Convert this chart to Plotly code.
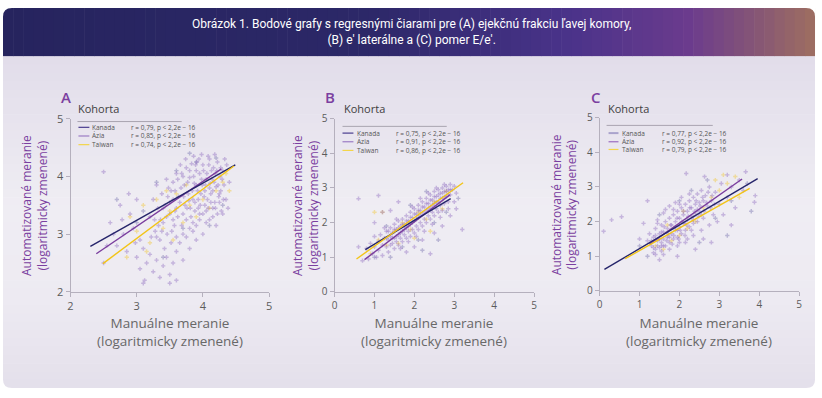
import plotly.graph_objects as go

W, H = 822, 398


def X(p):
    return p / W


def Y(p):
    return 1 - p / H


# ---------------- DATA ----------------
cohorts = ["Kanada", "Ázia", "Taiwan"]
panel_letters = ["A", "B", "C"]
A_r = ["r = 0,79, p < 2,2e − 16", "r = 0,85, p < 2,2e − 16", "r = 0,74, p < 2,2e − 16"]
B_r = ["r = 0,75, p < 2,2e − 16", "r = 0,91, p < 2,2e − 16", "r = 0,86, p < 2,2e − 16"]
C_r = ["r = 0,77, p < 2,2e − 16", "r = 0,92, p < 2,2e − 16", "r = 0,79, p < 2,2e − 16"]

A_ticks = [2, 3, 4, 5]
BC_ticks = [0, 1, 2, 3, 4, 5]

# regression line end points (x0, x1), (y0, y1)
A_fit_kanada = ([2.30, 4.49], [2.79, 4.20])
A_fit_azia = ([2.39, 4.28], [2.66, 4.13])
A_fit_taiwan = ([2.49, 4.47], [2.49, 4.18])
B_fit_kanada = ([0.77, 2.91], [1.22, 2.69])
B_fit_azia = ([0.75, 2.89], [0.93, 2.80])
B_fit_taiwan = ([0.55, 3.22], [0.95, 3.15])
C_fit_kanada = ([0.12, 3.96], [0.62, 3.24])
C_fit_azia = ([1.25, 3.57], [1.35, 3.23])
C_fit_taiwan = ([0.64, 3.76], [0.93, 2.96])

A_pts_azia = [
    (3.62, 3.95), (3.68, 4.05), (3.72, 3.85), (3.75, 4.15), (3.78, 3.7), (3.8, 3.98), (3.83, 4.22),
    (3.85, 3.6), (3.87, 3.88), (3.9, 4.1), (3.92, 3.75), (3.94, 4.3), (3.96, 3.5), (3.98, 3.95),
    (4.0, 4.2), (4.02, 3.65), (4.04, 3.85), (4.06, 4.05), (4.08, 3.45), (4.1, 4.3), (4.12, 3.7),
    (4.14, 3.95), (4.16, 4.15), (4.18, 3.55), (4.2, 3.82), (4.22, 4.25), (4.24, 3.65), (4.26, 4.0),
    (4.28, 3.4), (4.3, 4.1), (3.65, 3.55), (3.7, 3.35), (3.76, 3.45), (3.82, 3.3), (3.88, 3.4),
    (3.95, 3.25), (4.0, 3.35), (4.05, 3.2), (4.15, 3.3), (4.25, 3.55), (3.58, 3.75), (3.6, 3.45),
    (3.66, 4.2), (3.74, 4.3), (3.86, 4.35), (3.98, 4.38), (4.08, 4.35), (4.18, 4.38), (4.32, 3.85),
    (4.35, 3.6), (4.36, 4.2), (4.4, 3.9), (3.93, 3.6), (4.03, 3.75), (4.11, 3.88), (3.79, 3.58),
    (3.71, 3.65), (4.19, 4.05), (4.27, 3.75), (3.89, 4.2),
    (3.55, 3.9), (3.6, 4.05), (3.63, 3.65), (3.67, 3.8), (3.7, 4.0), (3.73, 3.5), (3.77, 3.9),
    (3.8, 4.1), (3.81, 3.45), (3.84, 3.75), (3.86, 4.0), (3.88, 3.55), (3.9, 3.85), (3.91, 4.25),
    (3.93, 3.45), (3.95, 4.05), (3.97, 3.7), (3.99, 3.85), (4.01, 4.1), (4.03, 3.5), (4.05, 3.95),
    (4.07, 3.6), (4.09, 4.2), (4.1, 3.8), (4.12, 3.55), (4.13, 4.1), (4.15, 3.75), (4.17, 3.9),
    (4.19, 3.45), (4.21, 4.1), (4.23, 3.85), (4.25, 3.7), (4.27, 4.15), (4.29, 3.95), (4.31, 3.6),
    (4.33, 4.3), (4.05, 3.4), (3.95, 3.35), (4.15, 3.45), (4.22, 3.35), (3.85, 3.2), (3.75, 3.25),
    (3.68, 3.15), (3.62, 3.3), (3.55, 3.25), (3.5, 3.55), (3.52, 3.75), (3.45, 3.3), (3.4, 3.45),
    (3.38, 3.05), (3.3, 2.95), (3.27, 3.25), (3.6, 2.95), (3.7, 3.0), (3.8, 3.1), (3.9, 3.15),
    (4.1, 3.25), (4.2, 3.15), (4.3, 3.35), (4.38, 3.45),
    (3.2, 3.3), (3.25, 3.6), (3.28, 3.05), (3.32, 3.45), (3.35, 2.9), (3.38, 3.7), (3.4, 3.2),
    (3.43, 3.5), (3.46, 3.0), (3.48, 3.8), (3.5, 3.35), (3.52, 2.85), (3.55, 3.6), (3.57, 3.15),
    (3.3, 3.85), (3.45, 3.95), (3.22, 2.95), (3.36, 3.25), (3.53, 3.05), (3.42, 2.75), (3.33, 3.15),
    (3.47, 3.65), (3.58, 3.4),
    (3.0, 2.6), (3.05, 2.4), (3.1, 2.75), (3.12, 2.2), (3.15, 2.5), (3.2, 2.65), (3.25, 2.35),
    (3.3, 2.55), (3.35, 2.25), (3.4, 2.45), (3.45, 2.6), (3.5, 2.3), (3.55, 2.5), (3.6, 2.7),
    (3.65, 2.85), (3.7, 2.55), (3.75, 2.95), (3.8, 2.75), (3.85, 3.05), (3.1, 2.15), (3.6, 2.2),
    (3.5, 2.15), (3.9, 2.9), (4.0, 3.0),
    (2.5, 2.5), (2.6, 3.2), (2.7, 2.8), (2.75, 3.5), (2.8, 3.0), (2.85, 2.7), (2.9, 3.35),
    (2.95, 3.1), (3.0, 3.6), (3.05, 2.9), (2.65, 3.0), (2.88, 3.7), (2.98, 2.85), (2.78, 3.25),
    (2.55, 2.8), (2.5, 4.08),
]
A_pts_taiwan = [
    (2.9, 3.3), (3.0, 3.05), (3.1, 3.5), (3.2, 2.85), (3.3, 3.6), (3.4, 3.1), (3.5, 3.4), (3.55, 2.9),
    (3.6, 3.7), (3.7, 3.2), (3.8, 3.5), (3.9, 3.3), (4.0, 3.6), (4.1, 3.45), (4.2, 3.75), (4.3, 3.9),
    (4.35, 4.05), (3.45, 3.75), (3.15, 2.7), (2.85, 2.6), (4.4, 3.75), (3.75, 3.85),
]
A_pts_kanada = [
    (3.3, 3.9), (3.6, 4.1), (3.9, 4.25), (4.2, 4.32), (3.1, 3.4), (3.7, 3.1), (4.1, 3.15), (2.7, 3.6),
    (3.4, 2.6), (4.3, 3.5), (3.0, 3.2), (3.8, 4.4),
]

B_pts_azia = [
    (0.8, 1.25), (0.85, 0.95), (0.9, 1.4), (0.95, 1.1), (1.0, 1.3), (1.0, 1.6), (1.05, 1.0), (1.1, 1.45),
    (1.1, 1.2), (1.15, 1.65), (1.2, 1.35), (1.2, 1.05), (1.25, 1.55), (1.3, 1.75), (1.3, 1.3),
    (1.35, 1.5), (1.35, 1.15), (1.4, 1.85), (1.4, 1.6), (1.45, 1.4), (1.45, 1.7), (1.5, 1.95),
    (1.5, 1.55), (1.5, 1.25), (1.55, 1.8), (1.55, 1.45), (1.6, 2.05), (1.6, 1.65), (1.6, 1.35),
    (1.65, 1.9), (1.65, 1.55), (1.7, 2.1), (1.7, 1.75), (1.7, 1.45), (1.75, 1.95), (1.75, 1.65),
    (1.8, 2.2), (1.8, 1.85), (1.8, 1.55), (1.85, 2.05), (1.85, 1.75), (1.9, 2.3), (1.9, 1.95),
    (1.9, 1.6), (1.95, 2.15), (1.95, 1.8), (2.0, 2.4), (2.0, 2.05), (2.0, 1.7), (2.05, 2.25),
    (2.05, 1.9), (2.1, 2.5), (2.1, 2.15), (2.1, 1.8), (2.15, 2.35), (2.15, 2.0), (2.2, 2.6),
    (2.2, 2.25), (2.2, 1.9), (2.25, 2.45), (2.25, 2.1), (2.3, 2.7), (2.3, 2.35), (2.3, 2.0),
    (2.35, 2.55), (2.35, 2.2), (2.4, 2.8), (2.4, 2.45), (2.4, 2.1), (2.45, 2.65), (2.45, 2.3),
    (2.5, 2.9), (2.5, 2.55), (2.5, 2.2), (2.55, 2.75), (2.55, 2.4), (2.6, 2.95), (2.6, 2.6),
    (2.6, 2.3), (2.65, 2.85), (2.65, 2.5), (2.7, 3.0), (2.7, 2.7), (2.7, 2.35), (2.75, 2.9),
    (2.75, 2.55), (2.8, 3.05), (2.8, 2.75), (2.85, 2.95), (2.85, 2.6), (2.9, 3.1), (2.9, 2.8),
    (2.95, 2.95), (3.0, 3.05), (3.05, 2.85),
    (1.3, 1.55), (1.35, 1.75), (1.4, 1.35), (1.45, 1.55), (1.5, 1.8), (1.55, 1.6), (1.6, 1.85),
    (1.65, 1.7), (1.7, 1.95), (1.75, 1.8), (1.8, 2.05), (1.85, 1.9), (1.9, 2.15), (1.95, 2.0),
    (2.0, 2.25), (2.05, 2.1), (2.1, 2.35), (2.15, 2.2), (2.2, 2.45), (2.25, 2.3), (2.3, 2.55),
    (2.35, 2.4), (2.4, 2.65), (2.45, 2.5), (2.5, 2.75), (2.55, 2.6), (2.6, 2.8), (2.65, 2.7),
    (2.7, 2.85), (2.75, 2.75), (2.8, 2.9), (2.85, 2.8), (2.9, 2.95), (2.35, 2.85), (2.55, 3.0),
    (2.75, 3.1), (2.15, 2.7), (1.95, 2.45), (1.55, 2.1), (1.25, 1.85), (1.65, 1.25), (1.85, 1.45),
    (2.05, 1.6), (2.25, 1.75), (2.45, 1.95), (2.65, 2.15), (2.85, 2.4), (3.0, 2.6),
    (0.6, 1.3), (0.7, 0.9), (1.0, 2.0), (1.2, 2.3), (1.6, 2.6), (2.2, 1.5), (2.5, 1.7), (2.7, 1.9),
    (2.9, 2.2), (3.2, 1.8), (1.8, 1.15), (2.4, 1.1), (1.4, 2.35), (3.05, 2.4), (2.0, 1.3),
    (0.6, 2.69), (1.1, 2.78),
]
B_pts_taiwan = [
    (0.9, 1.1), (1.1, 1.5), (1.3, 1.35), (1.5, 1.75), (1.7, 2.0), (1.9, 1.8), (2.1, 2.3), (2.3, 2.1),
    (2.5, 2.6), (2.7, 2.4), (1.2, 2.3), (1.0, 2.3), (2.0, 1.55), (2.4, 1.75), (1.6, 1.4), (2.8, 2.9),
]
B_pts_kanada = [
    (1.0, 1.0), (1.3, 1.9), (1.7, 1.3), (2.1, 1.5), (2.5, 2.0), (2.8, 2.3), (2.3, 2.9), (1.9, 2.5),
    (3.1, 2.7), (2.6, 1.5), (1.4, 1.0), (2.2, 1.2),
]

C_pts_azia = [
    (1.3, 1.3), (1.35, 1.55), (1.4, 1.2), (1.4, 1.8), (1.45, 1.45), (1.5, 1.65), (1.5, 1.25), (1.55, 1.9),
    (1.55, 1.4), (1.6, 1.7), (1.6, 1.5), (1.65, 2.0), (1.65, 1.3), (1.7, 1.8), (1.7, 1.55), (1.75, 2.1),
    (1.75, 1.4), (1.8, 1.9), (1.8, 1.65), (1.85, 2.2), (1.85, 1.5), (1.9, 2.0), (1.9, 1.75), (1.95, 2.3),
    (1.95, 1.55), (2.0, 2.1), (2.0, 1.85), (2.0, 1.4), (2.05, 2.4), (2.05, 1.65), (2.1, 2.2), (2.1, 1.95),
    (2.15, 2.5), (2.15, 1.75), (2.2, 2.3), (2.2, 2.05), (2.2, 1.5), (2.25, 2.6), (2.25, 1.85), (2.3, 2.4),
    (2.3, 2.15), (2.35, 2.7), (2.35, 1.95), (2.4, 2.5), (2.4, 2.25), (2.45, 2.8), (2.45, 2.0), (2.5, 2.55),
    (2.5, 2.3), (2.55, 2.9), (2.6, 2.6), (2.6, 2.1), (2.65, 2.75), (2.7, 2.45), (2.75, 3.0), (2.8, 2.6),
    (2.85, 2.2), (2.9, 2.85), (3.0, 2.5), (3.05, 3.1), (1.45, 2.05), (1.6, 2.25), (1.75, 2.45), (1.9, 2.55),
    (2.05, 2.7), (1.35, 1.1), (1.55, 1.15), (1.75, 1.2), (1.95, 1.3), (2.15, 1.4), (2.35, 1.6), (2.55, 1.75),
    (2.75, 1.9), (2.95, 2.0), (1.25, 1.65), (1.2, 1.45), (1.1, 1.95), (2.4, 1.2), (2.6, 1.5), (3.1, 2.2),
    (3.2, 2.7), (3.3, 3.0), (3.4, 2.4), (3.5, 3.2), (3.6, 2.9), (3.2, 3.35),
    (1.3, 1.45), (1.35, 1.25), (1.4, 1.6), (1.45, 1.3), (1.5, 1.5), (1.55, 1.7), (1.6, 1.3),
    (1.62, 1.85), (1.68, 1.45), (1.72, 1.65), (1.78, 1.9), (1.82, 1.35), (1.86, 1.6), (1.9, 1.85),
    (1.94, 2.1), (1.98, 1.5), (2.02, 1.75), (2.06, 2.0), (2.1, 2.3), (2.14, 1.6), (2.18, 1.9),
    (2.22, 2.15), (2.26, 2.4), (2.3, 1.75), (2.34, 2.05), (2.38, 2.3), (2.42, 2.6), (2.48, 2.15),
    (2.52, 2.45), (2.58, 2.7), (2.62, 2.3), (2.68, 2.55), (2.72, 2.85), (2.78, 2.4), (2.82, 2.75),
    (2.88, 2.5), (1.4, 1.05), (1.6, 1.05), (1.45, 1.95), (1.65, 2.35), (1.85, 2.35), (2.0, 2.5),
    (2.25, 2.8), (2.45, 2.35), (1.55, 1.3), (1.75, 1.55), (1.95, 1.75), (2.15, 1.95), (2.35, 2.15),
    (2.55, 2.2),
    (0.1, 1.72), (0.3, 2.05), (0.55, 2.14), (1.0, 1.5), (2.17, 3.39), (2.63, 3.3), (3.66, 3.44),
    (3.9, 2.75), (3.88, 2.56), (1.5, 0.9), (1.95, 1.0), (1.2, 2.6), (2.8, 1.4), (3.3, 1.9),
]
C_pts_taiwan = [
    (1.4, 1.3), (1.6, 1.2), (1.8, 1.45), (2.0, 1.6), (2.2, 1.8), (2.4, 2.0), (2.6, 2.4), (2.8, 2.7),
    (3.0, 2.9), (3.2, 3.1), (3.4, 3.3), (2.1, 2.3), (1.7, 1.9), (3.1, 3.35), (2.9, 3.2), (3.5, 2.7),
]
C_pts_kanada = [
    (1.0, 1.3), (1.5, 2.2), (2.3, 2.9), (2.5, 1.4), (2.9, 2.1), (3.3, 2.6), (3.7, 3.1), (3.8, 2.3),
    (1.2, 1.0), (2.0, 2.6), (2.7, 3.2), (3.2, 1.6),
]

# ---------------- STYLE ----------------
PURPLE = "#7b3fa0"
line_colors = {"Kanada": "#26256b", "Ázia": "#7a3d9e", "Taiwan": "#f2c418"}
pt_colors = {"Kanada": "rgba(120,115,175,0.45)", "Ázia": "rgba(140,105,190,0.42)",
             "Taiwan": "rgba(240,205,90,0.55)"}
legend_sample = [
    {"Kanada": "#4a3d8f", "Ázia": "#9b7cc4", "Taiwan": "#f3d54a"},
    {"Kanada": "#4a3d8f", "Ázia": "#9b7cc4", "Taiwan": "#f3d54a"},
    {"Kanada": "#aaa3cc", "Ázia": "#9b6cc0", "Taiwan": "#f3d54a"},
]

panels = [
    dict(xd=(68, 268), yd=(115, 295), xr=[2, 5], yr=[2, 5], ticks=A_ticks, tfs=11,
         pts={"Kanada": A_pts_kanada, "Ázia": A_pts_azia, "Taiwan": A_pts_taiwan},
         fit={"Kanada": A_fit_kanada, "Ázia": A_fit_azia, "Taiwan": A_fit_taiwan},
         r=A_r, letter=(63, 93), koh=75, leg_line=(75, 180, 118), leg_y=[124, 133, 142],
         leg_sx=(76, 87), leg_tx=88, leg_rx=127, ytitle_x=32, xtitle_x=168),
    dict(xd=(334, 535), yd=(115, 295), xr=[0, 5], yr=[0, 5], ticks=BC_ticks, tfs=10,
         pts={"Kanada": B_pts_kanada, "Ázia": B_pts_azia, "Taiwan": B_pts_taiwan},
         fit={"Kanada": B_fit_kanada, "Ázia": B_fit_azia, "Taiwan": B_fit_taiwan},
         r=B_r, letter=(329, 93), koh=342, leg_line=(342, 447, 123), leg_y=[130, 139, 148],
         leg_sx=(342, 353), leg_tx=355, leg_rx=394, ytitle_x=305, xtitle_x=434),
    dict(xd=(601, 802), yd=(114, 294), xr=[0, 5], yr=[0, 5], ticks=BC_ticks, tfs=10,
         pts={"Kanada": C_pts_kanada, "Ázia": C_pts_azia, "Taiwan": C_pts_taiwan},
         fit={"Kanada": C_fit_kanada, "Ázia": C_fit_azia, "Taiwan": C_fit_taiwan},
         r=C_r, letter=(597, 93), koh=608, leg_line=(608, 715, 122), leg_y=[130, 139, 147],
         leg_sx=(610, 620), leg_tx=622, leg_rx=662, ytitle_x=565, xtitle_x=701),
]

fig = go.Figure()
shapes = []
annotations = []


def lerp_color(stops, t):
    for i in range(len(stops) - 1):
        t0, c0 = stops[i]
        t1, c1 = stops[i + 1]
        if t0 <= t <= t1:
            f = (t - t0) / (t1 - t0) if t1 > t0 else 0
            a = [int(c0[k:k + 2], 16) for k in (1, 3, 5)]
            b = [int(c1[k:k + 2], 16) for k in (1, 3, 5)]
            return "rgb(%d,%d,%d)" % tuple(round(a[j] + (b[j] - a[j]) * f) for j in range(3))
    return stops[-1][1]


# card body vertical gradient
body_stops = [(0, "#e2ddea"), (0.45, "#efedf3"), (0.75, "#edeaf2"), (1, "#e4e0eb")]
N = 40
top, bot = 50, 395
for i in range(N):
    y0 = top + (bot - top) * i / N
    y1 = top + (bot - top) * (i + 1) / N + 0.6
    shapes.append(dict(type="rect", xref="paper", yref="paper", x0=X(0), x1=X(818),
                       y0=Y(y1), y1=Y(y0), line=dict(width=0),
                       fillcolor=lerp_color(body_stops, i / (N - 1)), layer="below"))
# title band horizontal gradient
band_stops = [(0, "#26245e"), (0.45, "#2c2868"), (0.7, "#4a338a"), (0.85, "#6b3b8d"), (1, "#9c6c62")]
M = 80
for i in range(M):
    x0 = 818 * i / M
    x1 = 818 * (i + 1) / M + 0.6
    shapes.append(dict(type="rect", xref="paper", yref="paper", x0=X(x0), x1=X(x1),
                       y0=Y(50), y1=Y(0), line=dict(width=0),
                       fillcolor=lerp_color(band_stops, i / (M - 1)), layer="below"))
# rounded corner masks
r = 9
corners = [
    (0, 0, r, 0, 0, r),
    (818, 0, 818 - r, 0, 818, r),
    (818, 395, 818 - r, 395, 818, 395 - r),
    (0, 395, r, 395, 0, 395 - r),
]
for cx, cy, ax_, ay, bx, by in corners:
    path = "M %f,%f L %f,%f Q %f,%f %f,%f Z" % (X(cx), Y(cy), X(ax_), Y(ay), X(cx), Y(cy), X(bx), Y(by))
    shapes.append(dict(type="path", xref="paper", yref="paper", path=path,
                       fillcolor="white", line=dict(width=0), layer="below"))
shapes.append(dict(type="rect", xref="paper", yref="paper", x0=X(818), x1=1, y0=0, y1=1,
                   fillcolor="white", line=dict(width=0), layer="below"))
shapes.append(dict(type="rect", xref="paper", yref="paper", x0=0, x1=1, y0=0, y1=Y(395),
                   fillcolor="white", line=dict(width=0), layer="below"))

annotations.append(dict(
    text="Obrázok 1. Bodové grafy s regresnými čiarami pre (A) ejekčnú frakciu ľavej komory,<br>(B) e′ laterálne a (C) pomer E/e′.",
    xref="paper", yref="paper", x=X(411), y=Y(25), xanchor="center", yanchor="middle",
    showarrow=False, font=dict(family="Roboto", size=12, color="white")))

layout_axes = {}
for k, p in enumerate(panels):
    suffix = "" if k == 0 else str(k + 1)
    xa, ya = "x" + suffix, "y" + suffix
    layout_axes["xaxis" + suffix] = dict(
        domain=[X(p["xd"][0]), X(p["xd"][1])], range=p["xr"], anchor=ya,
        tickvals=p["ticks"], showgrid=False, zeroline=False, showline=True,
        linecolor="#b5b0bd", linewidth=1, ticks="outside", ticklen=4, tickcolor="#b5b0bd",
        tickfont=dict(family="Open Sans", size=p["tfs"], color="#5c5c5c"), fixedrange=True)
    layout_axes["yaxis" + suffix] = dict(
        domain=[Y(p["yd"][1]), Y(p["yd"][0])], range=p["yr"], anchor=xa,
        tickvals=p["ticks"], showgrid=False, zeroline=False, showline=True,
        linecolor="#b5b0bd", linewidth=1, ticks="outside", ticklen=4, tickcolor="#b5b0bd",
        tickfont=dict(family="Open Sans", size=p["tfs"], color="#5c5c5c"), fixedrange=True)

    for name in ["Kanada", "Taiwan", "Ázia"]:
        pts = p["pts"][name]
        fig.add_trace(go.Scatter(
            x=[a for a, b in pts], y=[b for a, b in pts], mode="markers", xaxis=xa, yaxis=ya,
            marker=dict(symbol="cross", size=3.6, color=pt_colors[name], line=dict(width=0)),
            showlegend=False, hoverinfo="skip"))
    for name in ["Ázia", "Kanada", "Taiwan"]:
        fx, fy = p["fit"][name]
        fig.add_trace(go.Scatter(
            x=fx, y=fy, mode="lines", xaxis=xa, yaxis=ya,
            line=dict(color=line_colors[name], width=1.4), showlegend=False, hoverinfo="skip"))

    # panel letter and legend
    lx, ly = p["letter"]
    annotations.append(dict(text=panel_letters[k], xref="paper", yref="paper", x=X(lx), y=Y(ly),
                            xanchor="center", yanchor="middle", showarrow=False,
                            font=dict(family="Open Sans", size=15, color=PURPLE, weight=600)))
    annotations.append(dict(text="Kohorta", xref="paper", yref="paper", x=X(p["koh"] - 1), y=Y(104),
                            xanchor="left", yanchor="middle", showarrow=False,
                            font=dict(family="Open Sans", size=11, color="#404040")))
    l0, l1, lyy = p["leg_line"]
    shapes.append(dict(type="line", xref="paper", yref="paper", x0=X(l0), x1=X(l1), y0=Y(lyy), y1=Y(lyy),
                       line=dict(color="#a9a4b0", width=1)))
    for j, name in enumerate(cohorts):
        yy = p["leg_y"][j]
        shapes.append(dict(type="line", xref="paper", yref="paper", x0=X(p["leg_sx"][0]), x1=X(p["leg_sx"][1]),
                           y0=Y(yy), y1=Y(yy),
                           line=dict(color=legend_sample[k][name], width=2 if (k == 2 and j == 0) else 1.2)))
        annotations.append(dict(text=name, xref="paper", yref="paper", x=X(p["leg_tx"]), y=Y(yy),
                                xanchor="left", yanchor="middle", showarrow=False,
                                font=dict(family="Open Sans", size=6.5, color="#555555")))
        annotations.append(dict(text=p["r"][j], xref="paper", yref="paper", x=X(p["leg_rx"]), y=Y(yy),
                                xanchor="left", yanchor="middle", showarrow=False,
                                font=dict(family="Open Sans", size=6.5, color="#555555")))
    # axis titles
    annotations.append(dict(text="Automatizované meranie<br>(logaritmicky zmenené)", xref="paper", yref="paper",
                            x=X(p["ytitle_x"]), y=Y((p["yd"][0] + p["yd"][1]) / 2), xanchor="center",
                            yanchor="middle", textangle=-90, showarrow=False,
                            font=dict(family="Open Sans", size=12, color=PURPLE)))
    annotations.append(dict(text="Manuálne meranie<br>(logaritmicky zmenené)", xref="paper", yref="paper",
                            x=X(p["xtitle_x"]), y=Y(337), xanchor="center", yanchor="middle",
                            showarrow=False, font=dict(family="Open Sans", size=13.5, color="#686868")))

fig.update_layout(width=W, height=H, margin=dict(l=0, r=0, t=0, b=0),
                  paper_bgcolor="white", plot_bgcolor="rgba(0,0,0,0)",
                  shapes=shapes, annotations=annotations, showlegend=False, **layout_axes)
fig.write_html("out.html", config={"displayModeBar": False},
               post_script=("document.documentElement.style.overflow='hidden';"
                            "document.documentElement.style.margin='0';"
                            "document.body.style.margin='0';document.body.style.padding='0';"
                            "document.body.style.height='398px';document.body.style.overflow='hidden';"))
